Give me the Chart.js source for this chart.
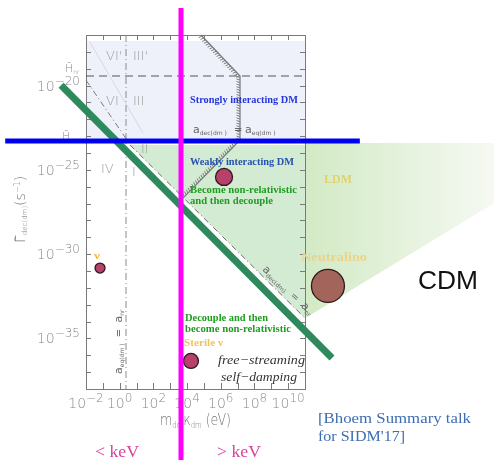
<!DOCTYPE html>
<html>
<head>
<meta charset="utf-8">
<script src="https://cdn.jsdelivr.net/npm/chart.js@4.4.0/dist/chart.umd.min.js"></script>
<style>
  html, body { margin: 0; padding: 0; background: #fff; overflow: hidden; }
  canvas { display: block; }
</style>
</head>
<body>
<canvas id="c" width="494" height="460"></canvas>
<script>
// ---------- axis decades that carry a label ----------
const xLabelExps = [-2, 0, 2, 4, 6, 8, 10];
const yLabelExps = [-20, -25, -30, -35];

// ---------- dark matter candidates (mass in eV, decoupling rate in s^-1) ----------
const candNames = ['ν', 'Weakly interacting DM', 'Neutralino', 'Sterile ν'];
const candMass  = [6.8e-2, 1.56e6, 2.3e12, 1.7e4];
const candRate  = [1.5e-31, 3.8e-26, 1.3e-32, 4.6e-37];

// ---------- boundary curves ----------
const hnrMass   = [1e-2, 1e11];            const hnrRate   = [3.7e-20, 3.7e-20];   // H_nr
const heqMass   = [1.6e-7, 1.8e14];        const heqRate   = [5.2e-24, 5.2e-24];   // H_eq
const keVMass   = [4.36e3, 4.36e3];        const keVRate   = [4e-16, 6e-43];       // keV divide
const cutMass   = [3.3e-4, 4.0e12];        const cutRate   = [1.05e-20, 6.9e-37];  // damping cut
const aeqNrMass = [2.37, 2.37];            const aeqNrRate = [1e-17, 1e-38];       // a_eq(dm) = a_nr
const upperMass = [1e-2, 2.7];             const upperRate = [2.1e-20, 5.9e-24];
const decNrMass = [4.1, 1e11];             const decNrRate = [3.0e-24, 1.6e-34];   // a_dec(dm) = a_nr
const decEqMass = [6.7e4, 1.39e7, 1.39e7, 5.7e3];
const decEqRate = [1e-17, 3.7e-20, 5.9e-24, 2.1e-27];                              // a_dec(dm) = a_eq(dm)
const faintMass = [1.7e-2, 24];            const faintRate = [3.8e-18, 1.55e-23];

// ---------- shaded regions ----------
const strongMass = [1.15e-2, 1e11, 1e11, 1.15e-2]; const strongRate = [4.4e-18, 4.4e-18, 7.8e-24, 7.8e-24];
const weakMass   = [4.1, 1e11, 1e11];               const weakRate   = [3.0e-24, 3.0e-24, 1.6e-34];
const ldmMass    = [1e11, 1.7e22, 1.7e22, 1e11];    const ldmRate    = [3.9e-24, 3.9e-24, 1.07e-27, 1.6e-34];

const pts = (xs, ys) => xs.map((x, i) => ({ x: x, y: ys[i] }));

function lineSet(id, xs, ys, style) {
  return Object.assign({
    label: id, data: pts(xs, ys), showLine: true, pointRadius: 0,
    fill: false, tension: 0, borderWidth: 1, clip: false, order: 10
  }, style);
}

const SANS = '"DejaVu Sans"';
const SERIF = '"Liberation Serif"';

// draws a run of text pieces (for sub/superscripts), returns width
function runs(ctx, x, y, parts, color, weight) {
  ctx.fillStyle = color;
  ctx.textAlign = 'left';
  ctx.textBaseline = 'alphabetic';
  let cx = x;
  for (const [t, size, dy] of parts) {
    ctx.font = (weight || 'normal') + ' ' + size + 'px ' + SANS;
    ctx.fillText(t, cx, y + dy);
    cx += ctx.measureText(t).width;
  }
  return cx - x;
}
function runsWidth(ctx, parts, weight) {
  let w = 0;
  for (const [t, size] of parts) {
    ctx.font = (weight || 'normal') + ' ' + size + 'px ' + SANS;
    w += ctx.measureText(t).width;
  }
  return w;
}
// same as runs, squeezed to a given total width
function runsFit(ctx, x, y, parts, color, weight, w) {
  const m = runsWidth(ctx, parts, weight);
  ctx.save();
  ctx.translate(x, y);
  ctx.scale(w / m, 1);
  runs(ctx, 0, 0, parts, color, weight);
  ctx.restore();
}
// text squeezed/stretched horizontally to a given width
function fit(ctx, t, x, y, w, font, color) {
  ctx.save();
  ctx.font = font;
  const m = ctx.measureText(t).width;
  ctx.translate(x, y);
  ctx.scale(w / m, 1);
  ctx.fillStyle = color;
  ctx.textAlign = 'left';
  ctx.textBaseline = 'middle';
  ctx.fillText(t, 0, 0);
  ctx.restore();
}
function polygon(ctx, sx, sy, xs, ys) {
  ctx.beginPath();
  xs.forEach((m, i) => {
    const px = sx.getPixelForValue(m), py = sy.getPixelForValue(ys[i]);
    if (i) ctx.lineTo(px, py); else ctx.moveTo(px, py);
  });
  ctx.closePath();
}
const sup = e => String(e).replace('-', '−');

const decorations = {
  id: 'decorations',
  beforeDatasetsDraw(chart) {
    const ctx = chart.ctx, sx = chart.scales.x, sy = chart.scales.y, a = chart.chartArea;
    ctx.save();
    // strongly interacting region
    polygon(ctx, sx, sy, strongMass, strongRate);
    ctx.fillStyle = '#eef1fa';
    ctx.fill();
    // weakly interacting region
    polygon(ctx, sx, sy, weakMass, weakRate);
    ctx.fillStyle = '#d3ebd3';
    ctx.fill();
    // light dark matter wedge, fading out
    const g = ctx.createLinearGradient(a.right, 0, chart.width, 0);
    g.addColorStop(0, '#d3eac5');
    g.addColorStop(1, '#f5f9f2');
    polygon(ctx, sx, sy, ldmMass, ldmRate);
    ctx.fillStyle = g;
    ctx.fill();

    // frame
    ctx.strokeStyle = '#7a7a7a';
    ctx.lineWidth = 1;
    ctx.strokeRect(Math.round(a.left) + 0.5, Math.round(a.top) + 0.5,
                   Math.round(a.right - a.left), Math.round(a.bottom - a.top));
    // inward ticks, one per decade
    ctx.beginPath();
    for (let e = -2; e <= 11; e++) {
      const px = Math.round(sx.getPixelForValue(Math.pow(10, e))) + 0.5;
      ctx.moveTo(px, a.bottom); ctx.lineTo(px, a.bottom - 6);
      ctx.moveTo(px, a.top); ctx.lineTo(px, a.top + 5);
    }
    for (let e = -38; e <= -17; e++) {
      const py = Math.round(sy.getPixelForValue(Math.pow(10, e))) + 0.5;
      ctx.moveTo(a.left, py); ctx.lineTo(a.left + 5, py);
      ctx.moveTo(a.right, py); ctx.lineTo(a.right - 5, py);
    }
    ctx.stroke();

    // tick labels
    const tc = '#8a8a8a';
    for (const e of xLabelExps) {
      const parts = [['10', 14, 0], [sup(e), 12, -6]];
      const w = runsWidth(ctx, parts, '200');
      runs(ctx, sx.getPixelForValue(Math.pow(10, e)) - w / 2, a.bottom + 19, parts, tc, '200');
    }
    for (const e of yLabelExps) {
      const parts = [['10', 14, 0], [sup(e), 12, -6]];
      const w = runsWidth(ctx, parts, '200');
      runs(ctx, a.left - 6 - w, sy.getPixelForValue(Math.pow(10, e)) + 5, parts, tc, '200');
    }
    // x title
    runsFit(ctx, 160, 425, [['m', 15, 0], ['dm', 8, 3], ['κ', 15, 0], ['dm', 8, 3], [' (eV)', 15, 0]], '#777', '200', 71);
    // y title
    ctx.save();
    ctx.translate(25, 243);
    ctx.rotate(-Math.PI / 2);
    runs(ctx, 0, 0, [['Γ̃', 14, 0], ['dec(dm)', 7, 2], ['(s', 14, 0], ['−1', 8, -5], [')', 14, 0]], '#777', '200');
    ctx.restore();
    // H labels next to the axis
    runs(ctx, 65, 72, [['H̃', 11, 0], ['nr', 6, 2]], '#888', '200');
    runs(ctx, 62, 140, [['H̃', 11, 0], ['eq', 6, 2]], '#888', '200');
    ctx.restore();
  },
  afterDatasetDraw(chart, args) {
    const ctx = chart.ctx, sx = chart.scales.x, sy = chart.scales.y;
    const id = args.meta.label;
    if (id === 'decEq') {
      // hatching on the strongly coupled side
      const p = decEqMass.map((m, i) => [sx.getPixelForValue(m), sy.getPixelForValue(decEqRate[i])]);
      ctx.save();
      ctx.strokeStyle = '#7d7d7d';
      ctx.lineWidth = 1;
      ctx.beginPath();
      for (let i = 0; i < p.length - 1; i++) {
        const [x0, y0] = p[i], [x1, y1] = p[i + 1];
        const dx = x1 - x0, dy = y1 - y0, L = Math.hypot(dx, dy);
        const ux = dx / L, uy = dy / L, nx = -uy, ny = ux;
        for (let s = 1.5; s < L; s += 2.6) {
          const px = x0 + ux * s, py = y0 + uy * s;
          ctx.moveTo(px, py);
          ctx.lineTo(px + nx * 3.5 - ux * 1.2, py + ny * 3.5 - uy * 1.2);
        }
      }
      ctx.stroke();
      ctx.restore();
    }
    if (id === 'cut') {
      // candidate markers
      const radius = [5, 8.5, 16.5, 7.5];
      const fills = ['#b8406c', '#b8406c', '#a3655b', '#b8406c'];
      ctx.save();
      candMass.forEach((m, i) => {
        ctx.beginPath();
        ctx.arc(sx.getPixelForValue(m), sy.getPixelForValue(candRate[i]), radius[i], 0, Math.PI * 2);
        ctx.fillStyle = fills[i];
        ctx.fill();
        ctx.lineWidth = 1.3;
        ctx.strokeStyle = '#2b1b1b';
        ctx.stroke();
      });
      ctx.restore();
    }
  },
  beforeDatasetDraw(chart, args) {
    if (args.meta.label !== 'heq') return;
    const ctx = chart.ctx;
    ctx.save();
    // region numbers
    const rc = '#9c9c9c';
    const reg = [["VI'", 106, 60], ["III'", 133, 60], ['VI', 106, 105], ['III', 133, 105],
                 ['IV', 101, 173], ['II', 141, 153], ['I', 132, 176]];
    for (const [t, x, y] of reg) runs(ctx, x, y, [[t, 13, 0]], rc, '200');
    // boundary names
    const lc = '#666';
    runs(ctx, 193, 133, [['a', 11, 0], ['dec(dm )', 6, 2]], lc);
    runs(ctx, 234, 133, [['=', 10, 0]], lc);
    runs(ctx, 245, 133, [['a', 11, 0], ['eq(dm )', 6, 2]], lc);
    ctx.save();
    ctx.translate(122, 374);
    ctx.rotate(-Math.PI / 2);
    runs(ctx, 0, 0, [['a', 11, 0], ['eq(dm )', 6, 2], ['  =  ', 10, 0], ['a', 11, 0], ['nr', 6, 2]], lc);
    ctx.restore();
    ctx.save();
    ctx.translate(262, 270);
    ctx.rotate(0.76);
    runs(ctx, 0, 0, [['a', 11, 0], ['dec(dm)', 6, 2], ['  =  ', 10, 0], ['a', 11, 0], ['nr', 6, 2]], lc);
    ctx.restore();

    // physics annotations
    const B = n => 'bold ' + n + 'px ' + SERIF;
    fit(ctx, 'Strongly interacting DM', 190, 100, 108, B(11), '#2536d8');
    fit(ctx, 'Weakly interacting DM', 190, 162, 104, B(11), '#2452b0');
    fit(ctx, 'Become non-relativistic', 190, 190, 107, B(11), '#1e9e1e');
    fit(ctx, 'and then decouple', 190, 201, 83, B(11), '#1e9e1e');
    fit(ctx, 'Decouple and then', 185, 318, 83, B(11), '#1e9e1e');
    fit(ctx, 'become non-relativistic', 185, 329, 106, B(11), '#1e9e1e');
    fit(ctx, 'free−streaming', 218, 361, 87, 'italic 13px ' + SERIF, '#333');
    fit(ctx, 'self−damping', 221, 378, 76, 'italic 13px ' + SERIF, '#333');
    // candidate names
    fit(ctx, candNames[0], 94, 256, 6, B(11), '#f2b838');
    fit(ctx, candNames[2], 301, 258, 66, B(12), '#ebd38a');
    fit(ctx, candNames[3], 184, 343, 39, B(11), '#f6c452');
    fit(ctx, 'LDM', 324, 180, 28, B(12), '#e0d36e');
    fit(ctx, 'CDM', 418, 282, 60, '25px "Liberation Sans"', '#111');
    fit(ctx, '< keV', 95, 453, 44, '17px ' + SERIF, '#d5449c');
    fit(ctx, '> keV', 217, 453, 44, '17px ' + SERIF, '#d5449c');
    fit(ctx, '[Bhoem Summary talk', 318, 419, 153, '15px ' + SERIF, '#3d6db2');
    fit(ctx, "for SIDM'17]", 318, 437, 87, '15px ' + SERIF, '#3d6db2');
    ctx.restore();
  }
};

new Chart(document.getElementById('c'), {
  type: 'scatter',
  data: {
    datasets: [
      lineSet('faint', faintMass, faintRate, { borderColor: '#d3d8ec', order: 12 }),
      lineSet('hnr', hnrMass, hnrRate, { borderColor: '#555', borderDash: [8, 5], order: 11 }),
      lineSet('aeqNr', aeqNrMass, aeqNrRate, { borderColor: '#8a8a8a', borderDash: [7, 3, 1, 3], order: 11 }),
      lineSet('upper', upperMass, upperRate, { borderColor: '#7a7a7a', borderDash: [6, 3, 1, 3], order: 11 }),
      lineSet('decNr', decNrMass, decNrRate, { borderColor: '#6d6d6d', borderDash: [6, 3, 1, 3], order: 11 }),
      lineSet('decEq', decEqMass, decEqRate, { borderColor: '#777', borderWidth: 1.2, order: 10 }),
      lineSet('cut', cutMass, cutRate, { borderColor: '#2e8a5c', borderWidth: 7, order: 3 }),
      lineSet('heq', heqMass, heqRate, { borderColor: '#0000f0', borderWidth: 5, order: 2 }),
      lineSet('keV', keVMass, keVRate, { borderColor: '#ff00ff', borderWidth: 5, order: 1 })
    ]
  },
  options: {
    responsive: false,
    animation: false,
    devicePixelRatio: 1,
    events: [],
    layout: { padding: { left: 86, top: 35, right: 189, bottom: 71 } },
    scales: {
      x: { type: 'logarithmic', min: 1e-2, max: 1e11, display: false },
      y: { type: 'logarithmic', min: 1e-38, max: 1e-17, display: false }
    },
    plugins: { legend: { display: false }, tooltip: { enabled: false } }
  },
  plugins: [decorations]
});
</script>
</body>
</html>
